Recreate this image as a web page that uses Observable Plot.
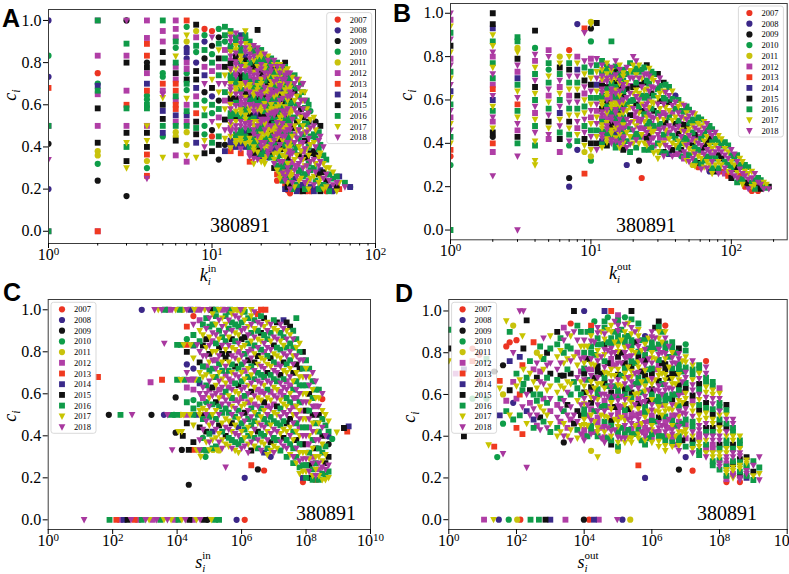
<!DOCTYPE html>
<html><head><meta charset="utf-8">
<script src="https://cdn.jsdelivr.net/npm/d3@7"></script>
<script src="https://cdn.jsdelivr.net/npm/@observablehq/plot@0.6"></script>
<style>
html,body{margin:0;padding:0;background:#fff;}
#wrap{position:relative;width:789px;height:574px;overflow:hidden;background:#fff;}
.panel{position:absolute;}
.panel svg{overflow:visible;}
#overlay{position:absolute;left:0;top:0;}
</style></head><body><div id="wrap"></div>
<script>
const YEARS = ["2007","2008","2009","2010","2011","2012","2013","2014","2015","2016","2017","2018"];
const COLORS = ["#ec3422","#3b2788","#141414","#0e9d48","#c8c20c","#b03ea6","#f03a20","#3a2a8a","#111111","#0f9a48","#c8c400","#a8389f"];
const SHAPES = ["circle","circle","circle","circle","circle","square","square","square","square","square","tri","tri"];
const Y_TICKS = [0, 0.2, 0.4, 0.6, 0.8, 1.0];
const K_MAJOR = [1, 10, 100];
const K_MINOR_A = [2,3,4,5,6,7,8,9,20,30,40,50,60,70,80,90];
const K_MINOR_B = [2,3,4,5,6,7,8,9,20,30,40,50,60,70,80,90,200];
const S_MAJOR = [1, 1e2, 1e4, 1e6, 1e8, 1e10];
const TOTAL = "380891";

// Panel A: columns [k_in, c values, year codes (0=2007 ... b=2018)]
const aCols = [
 [1, [1.0,.833,.733,.68,.5,.5,.415,.34,.2,0,0], "1316952b195"],
 [2, [1.0,1.0,.833,.75,.7,.69,.667,.65,.583,.5,.42,.38,.36,.32,.24,0,0], "95503795858443265"],
 [3, [1.0,1.0,.89,.833,.8,.667,.6,.583,.5,.467,.42,.4,.333,.3,.167], "2b95856958a98a2"],
 [4, [1.0,.917,.889,.833,.8,.778,.75,.7,.667,.643,.625,.6,.583,.5,.5,.467,.429,.4,.364,.333,.3,.263,.25], "55662857633995a8a86436b"],
 [5, [1.0,.95,.9,.85,.8,.75,.733,.7,.667,.65,.633,.6,.571,.533,.5,.467,.45,.35], "955883365ba878973a"],
 [6, [1.0,.96,.92,.9,.87,.83,.8,.78,.75,.72,.7,.667,.64,.62,.6,.58,.55,.52,.5,.47,.45,.43,.36], "55593a95856695667594485"],
 [7, [1.0,.97,.93,.9,.87,.85,.82,.8,.77,.75,.72,.7,.67,.63,.6,.57,.55,.52,.5,.47,.41,.36,.33], "63a4171553893a5975944a5"],
 [8, [.98,.95,.92,.88,.85,.8,.76,.72,.68,.64,.6,.56,.52,.49,.46,.42,.35], "8459318875968987a"],
 [9, [.96,.93,.9,.86,.82,.78,.74,.7,.66,.62,.58,.55,.5,.46,.43,.4,.37], "0319257b23a933ab8"],
 [10, [.95,.92,.88,.84,.8,.76,.72,.68,.64,.6,.56,.52,.48,.45,.42,.38], "0b2395a8193b2098"],
 [11, [.96,.92,.89,.86,.82,.78,.74,.7,.66,.62,.58,.54,.5,.45,.41,.34], "329a859ba295a982"],
 [12, [.97,.93,.9,.86,.82,.78,.74,.7,.66,.62,.58,.53,.48,.44,.41,.38], "993598ab95a8ba27"],
 [13, [.95,.92,.88,.85,.81,.77,.74,.7,.67,.63,.6,.56,.52,.49,.45,.41,.38], "9b9a5b9ab8a9b5a76"],
 [14, [.94,.9,.86,.83,.79,.75,.72,.68,.65,.61,.57,.54,.5,.46,.43,.4], "b9a8b59ab9a8b9a7"],
 [15, [.93,.89,.85,.81,.78,.74,.7,.67,.63,.59,.56,.52,.48,.44,.41,.37], "7b9ab8a9b5ab9a76"],
 [16, [.95,.91,.87,.83,.79,.76,.72,.69,.65,.62,.58,.55,.51,.47,.43,.4], "a9b7ab9a8b9ab797"],
 [17, [.9,.86,.82,.78,.75,.71,.68,.64,.6,.57,.53,.5,.46,.42,.38,.33], "9ab5b9a7ba9b8a56"],
 [18, [.88,.85,.81,.77,.74,.7,.66,.63,.59,.55,.52,.48,.44,.4,.37,.32], "b9a8b5a9b7ab9a2a"],
 [19, [.955,.87,.83,.8,.76,.72,.69,.65,.61,.58,.54,.5,.47,.43,.39,.36], "8ba9b5ab9a7b9a81"],
 [20, [.86,.83,.79,.75,.72,.68,.64,.61,.57,.53,.5,.46,.42,.38,.35], "9ab8a9b5ab9ab77"],
 [21, [.84,.8,.77,.73,.7,.66,.62,.59,.55,.51,.48,.44,.4,.36,.32], "b9ab5a9b8ab9a4a"],
 [22, [.83,.79,.75,.72,.68,.64,.61,.57,.53,.5,.46,.42,.38,.35], "a9b8ab9ab5a9b1"],
 [23, [.82,.78,.74,.71,.67,.63,.6,.56,.52,.48,.45,.41,.37], "9b7ab9ab8a9b2"],
 [24, [.81,.77,.73,.69,.66,.62,.58,.55,.51,.47,.43,.39,.34,.3], "b8a9b5ab9ab7a8"],
 [25, [.8,.76,.72,.68,.65,.61,.57,.53,.5,.46,.42,.37,.31,.27,.24], "9ab9a5b9ab8a960"],
 [26, [.79,.75,.71,.68,.64,.6,.56,.52,.49,.45,.41,.36,.3,.27], "ab9b8a9ab5b98a"],
 [27, [.78,.74,.7,.67,.63,.59,.55,.51,.47,.43,.39,.33,.29,.26], "b9a7b9ab9a8b59"],
 [28, [.8,.76,.72,.69,.65,.61,.57,.53,.49,.45,.41,.35,.3,.26,.22], "8ab9a5b9ab9a7b6"],
 [29, [.77,.73,.7,.66,.62,.58,.54,.5,.46,.42,.38,.32,.28,.25,.21], "a9b9ab8a9b5ab98"],
 [30, [.75,.72,.68,.64,.6,.56,.52,.48,.44,.4,.36,.3,.26,.22,.18], "b9ab7a9b5ab9a80"],
 [32, [.74,.7,.66,.62,.58,.54,.5,.46,.42,.38,.34,.29,.25,.21], "9b8ab9a5b9ab7a"],
 [34, [.72,.68,.64,.6,.56,.52,.48,.44,.4,.36,.32,.28,.24,.2], "ab9b5ab9a8b9a7"],
 [36, [.7,.66,.62,.58,.54,.5,.46,.42,.38,.34,.3,.26,.22,.19], "b9ab8a9b5ab978"],
 [38, [.62,.58,.55,.51,.47,.43,.39,.35,.31,.27,.23,.19], "9ab9b5a8b9a0"],
 [40, [.57,.53,.49,.45,.41,.37,.33,.29,.25,.21,.19], "3ab9a8b9a70"],
 [43, [.52,.48,.44,.4,.36,.32,.28,.24,.2], "2a9b8ab97"],
 [46, [.5,.45,.41,.37,.33,.29,.25,.21,.19], "8b9ab7a98"],
 [50, [.34,.3,.27,.24,.21,.19], "9ab8a0"],
 [55, [.28,.25,.22,.19], "a9b1"],
 [60, [.26,.23,.2], "7a6"],
 [65, [.23,.21], "9b"],
 [70, [.21,.21], "37"]
];
const aColsMore = [
 [13, [.935,.9,.865,.83,.795,.76,.72,.685,.65,.615,.58,.54,.505,.47,.43,.395], "ab9b8a9ba5b9ab7a"],
 [14, [.92,.88,.845,.81,.77,.735,.7,.665,.63,.595,.555,.52,.48,.445,.415], "9ab5ab9a8b9ab9a"],
 [15, [.91,.87,.83,.795,.76,.72,.685,.65,.61,.575,.54,.5,.46,.425,.39], "b9a9b8ab5a9b9ab"],
 [16, [.93,.89,.85,.81,.775,.74,.705,.67,.635,.6,.565,.53,.49,.45,.415], "9ab8a9b5ab9ab9a"],
 [17, [.88,.84,.8,.765,.73,.695,.66,.62,.585,.55,.515,.48,.44,.4,.355], "ab9b5ab9a8b9a9b"],
 [18, [.865,.83,.79,.755,.72,.68,.645,.61,.57,.535,.5,.46,.42,.385,.345], "9b8ab9a5b9ab9ab"],
 [19, [.85,.815,.78,.74,.705,.67,.63,.595,.56,.52,.485,.45,.41,.375,.34], "b9ab9a8b5a9b9ab"],
 [20, [.845,.81,.77,.735,.7,.66,.625,.59,.55,.515,.48,.44,.4,.365,.33], "a9b5ab9a8b9ab9a"],
 [21, [.82,.785,.75,.715,.68,.64,.605,.57,.53,.495,.46,.42,.38,.34], "9ab9b8a9b5ab9a"],
 [22, [.81,.77,.735,.7,.66,.625,.59,.55,.515,.48,.44,.4,.365], "b9a8ab9b5a9ab"],
 [23, [.8,.76,.725,.69,.65,.615,.58,.54,.5,.465,.43,.39,.35], "9b9ab5a9b8ab9"],
 [24, [.79,.75,.71,.675,.64,.6,.565,.53,.49,.45,.41,.365,.32], "a9b8a9b5ab9ab"],
 [25, [.78,.74,.7,.665,.63,.59,.55,.515,.48,.44,.395,.34,.29], "b9ab9a8b5ab9a"],
 [26, [.77,.73,.69,.66,.62,.58,.54,.5,.47,.43,.385,.33,.285,.25], "9ab5b9a9b8ab9a"],
 [27, [.76,.72,.685,.65,.61,.57,.53,.49,.45,.41,.36,.31,.275,.24], "ab9a8b9ab5a9b9"],
 [28, [.78,.74,.705,.67,.63,.59,.55,.51,.47,.43,.38,.325,.28,.24,.2], "9b8a9ab9b5a9ab7"],
 [29, [.75,.715,.68,.64,.6,.56,.52,.48,.44,.4,.35,.3,.265,.23,.195], "b9ab9a5b9a8b9a0"],
 [30, [.735,.7,.66,.62,.58,.54,.5,.46,.42,.38,.33,.28,.24,.2], "9ab8a9b9ab5a9b"],
 [31, [.73,.69,.65,.61,.57,.53,.49,.45,.41,.37,.32,.27,.23,.2], "a9b9ab8a9b5ab9"],
 [33, [.72,.68,.64,.6,.56,.52,.48,.44,.4,.36,.31,.26,.22,.19], "b9a9b8ab9a5b97"],
 [35, [.7,.66,.62,.58,.54,.5,.46,.42,.38,.34,.29,.25,.21,.19], "9ab8a9b5ab9a70"],
 [37, [.66,.62,.585,.55,.51,.47,.43,.39,.35,.31,.27,.23,.2], "ab9b9a8b5a9b9"],
 [39, [.6,.56,.52,.48,.44,.4,.36,.32,.28,.24,.2], "9b8ab9a9b5a"],
 [42, [.54,.5,.46,.42,.38,.34,.3,.26,.22,.19], "ab9a8b9ab7"],
 [45, [.47,.43,.39,.35,.31,.27,.23,.2], "9b9ab8a9"],
 [48, [.4,.36,.32,.28,.25,.22,.2], "b9a8b9a"],
 [52, [.3,.27,.24,.21,.19], "a9b79"],
 [58, [.26,.23,.21,.19], "9b8a"]
];

// Panel B: columns [k_out, c values, year codes]
const bCols = [
 [1, [1.0,.97,.94,.91,.88,.85,.82,.79,.76,.73,.7,.67,.64,.61,.58,.55,.52,.49,.46,.43,.4,.37,.34,.3,0], "b5a9b8a5b9ab7a9b5ab9a6039"],
 [2, [1.0,.95,.93,.9,.87,.85,.82,.8,.77,.75,.72,.7,.67,.65,.62,.6,.57,.55,.52,.5,.47,.45,.43,.4,.36,.25], "887a9ab59ab956b7a9b5a8265b"],
 [3, [.89,.87,.84,.82,.79,.76,.73,.7,.67,.64,.61,.58,.55,.52,.49,.46,.43,.4,.34,0], "994a8b579ab69ab589bb"],
 [4, [.92,.84,.81,.78,.75,.72,.69,.66,.63,.6,.57,.54,.51,.48,.45,.41,.39,.32,.3], "83b5a9b8a9b5a9ba9aa"],
 [5, [.83,.8,.77,.74,.71,.68,.65,.62,.59,.56,.53,.5,.47,.44,.42], "5b93a9b5a9b8ab5"],
 [6, [.8,.77,.75,.72,.69,.66,.63,.6,.57,.54,.51,.48,.45,.42,.36], "4a89b5a9b7ab985"],
 [7, [.83,.8,.77,.74,.71,.68,.65,.62,.59,.56,.53,.5,.47,.44,.41,.39,.24,.2], "0a98b9a5b9a8a9b321"],
 [8, [.95,.8,.77,.74,.71,.68,.65,.62,.59,.56,.53,.5,.47,.44,.41,.37], "15a7b9a8b9ab5a91"],
 [9, [.93,.91,.78,.75,.72,.69,.66,.63,.6,.57,.54,.51,.48,.45,.42,.39,.36,.26], "6bb9a8b5a9ab9b8a46"],
 [10, [.96,.95,.93,.87,.79,.76,.73,.7,.67,.64,.61,.58,.55,.52,.49,.46,.43,.4,.37,.34,.32], "4a235b9a8b9ab5a9b8a43"],
 [11, [.955,.79,.76,.73,.7,.67,.64,.61,.58,.55,.52,.49,.46,.43,.4,.37], "8b9ab7a9b5ab9a8b"],
 [12, [.78,.74,.71,.68,.65,.62,.59,.56,.53,.5,.47,.44,.41,.38], "9ab5b9a8b9ab7a"],
 [13, [.77,.74,.7,.66,.63,.6,.57,.54,.51,.48,.45,.42,.39], "a9b8ab9a5b9a8"],
 [14, [.87,.75,.72,.69,.65,.62,.58,.55,.52,.49,.46,.43,.4], "9b9ab5a9b8a9b"],
 [15, [.78,.73,.7,.66,.63,.6,.57,.54,.51,.47,.44,.41,.38], "b8a9b5ab9a7b9"],
 [16, [.76,.72,.69,.66,.62,.59,.56,.53,.49,.46,.42,.38], "a9b8ab9a5b9a"],
 [17, [.74,.71,.67,.64,.6,.57,.54,.5,.47,.44,.4,.37], "9ab9b8a9b5a8"],
 [18, [.75,.72,.68,.65,.61,.58,.55,.51,.48,.45,.41,.38,.3], "b9a8b9ab5a9b1"],
 [20, [.8,.76,.73,.7,.66,.63,.6,.56,.53,.5,.46,.43,.4], "ba9b8a9b5ab9a"],
 [22, [.76,.73,.7,.67,.63,.6,.57,.54,.5,.47,.43,.4,.32], "a9b8ab9a5b9a2"],
 [23, [.74,.7,.66,.62,.58,.55,.51,.47,.44,.24], "9ab9a8b5a0"],
 [25, [.76,.72,.69,.65,.62,.58,.55,.52,.48,.45,.42,.39], "8b9a9b5a9b8a"],
 [27, [.73,.7,.66,.63,.59,.56,.52,.49,.45,.42,.38], "9ab8a9b5ab9"],
 [30, [.72,.68,.65,.61,.58,.54,.51,.47,.44,.4,.36,.33], "8b9ab9a5b9aa"],
 [33, [.68,.64,.61,.58,.54,.51,.47,.44,.4,.36,.34], "8a9b5ab9a8b"],
 [36, [.66,.62,.59,.55,.52,.48,.45,.42,.38,.35], "9b8a9b5ab7"],
 [40, [.62,.59,.56,.52,.49,.46,.42,.39,.35], "1b9a8b9a5"],
 [44, [.58,.55,.52,.49,.46,.43,.4,.37,.34], "a9b5ab983"],
 [48, [.57,.54,.51,.48,.45,.42,.39,.35,.32], "9ab8a9b5a"],
 [53, [.54,.51,.48,.45,.42,.39,.36,.33,.3], "b9a9b8ab4"],
 [58, [.52,.49,.46,.43,.4,.37,.34,.31,.29], "9ab5b9a80"],
 [64, [.5,.47,.44,.41,.38,.35,.32,.29], "ab9a8b9a"],
 [70, [.48,.45,.42,.39,.36,.33,.3,.27], "9b8ab9a1"],
 [77, [.45,.42,.39,.36,.33,.3,.27], "b9ab9a8"],
 [85, [.42,.39,.36,.33,.3,.27], "a9b8a0"],
 [95, [.39,.36,.33,.3,.27,.25], "9ab9a6"],
 [105, [.35,.33,.3,.28,.25], "b9a8b"],
 [115, [.33,.3,.28,.25,.23], "a9b60"],
 [125, [.3,.27,.25,.22,.2], "9ab80"],
 [140, [.27,.24,.22,.2,.18], "ab9a0"],
 [155, [.24,.22,.2,.18], "9b80"],
 [170, [.22,.2,.19], "a9b"],
 [185, [.2,.19], "8b"]
];
const bColsMore = [
 [12, [.76,.725,.695,.665,.635,.605,.575,.545,.515,.485,.455,.425,.395], "b9a8b9ab5a9b9"],
 [13, [.755,.72,.685,.65,.615,.585,.555,.525,.495,.465,.435,.405], "9ab9a8b5ab9a"],
 [14, [.735,.705,.675,.635,.6,.565,.535,.505,.475,.445,.415], "ab9b5a9b8ab"],
 [15, [.755,.715,.68,.645,.615,.585,.555,.525,.49,.455,.425,.395], "9b8a9ab9b5a9"],
 [16, [.74,.705,.675,.64,.605,.575,.545,.51,.475,.44,.4], "b9ab9a8b5ab"],
 [17, [.725,.69,.655,.62,.585,.555,.52,.485,.455,.42,.385], "a9b8ab9a9b5"],
 [19, [.77,.735,.7,.665,.63,.595,.565,.53,.495,.465,.43,.395,.36], "9ab5b9a8b9ab9"],
 [21, [.78,.745,.715,.68,.645,.615,.58,.545,.515,.48,.445,.415,.38], "b9a9ab8b5a9b9"],
 [24, [.75,.715,.68,.645,.61,.57,.535,.5,.465,.43,.4,.37], "9b8a9b9ab5a9"],
 [26, [.745,.71,.675,.64,.6,.565,.53,.5,.465,.435,.4,.37], "ab9b5ab9a8b9"],
 [28, [.72,.69,.655,.62,.585,.55,.515,.48,.455,.425,.39,.355], "9ab9a8b9ab5a"],
 [31, [.7,.665,.63,.595,.56,.525,.49,.46,.425,.39,.36], "b9a8ab9b5a9"],
 [34, [.67,.635,.6,.565,.53,.495,.46,.425,.39,.355], "9b9ab8a5b9"],
 [38, [.64,.605,.575,.54,.505,.47,.435,.4,.37,.34], "a9b5ab9a8b"],
 [42, [.6,.57,.54,.505,.475,.445,.41,.38,.35], "9ab9b8a9b"],
 [46, [.575,.545,.515,.485,.455,.425,.395,.36,.33], "b9a8b9ab5"],
 [50, [.555,.525,.495,.465,.435,.405,.375,.345,.315], "9b9ab5a9b"],
 [55, [.535,.5,.47,.44,.41,.38,.35,.32,.295], "a9b8a9b9a"],
 [61, [.51,.48,.45,.42,.39,.36,.33,.305,.28], "9ab9b5a9b"],
 [67, [.49,.46,.43,.4,.37,.34,.315,.285], "b9a8b9ab"],
 [73, [.465,.435,.405,.375,.345,.315,.285,.26], "9b9a5b9a"],
 [81, [.435,.405,.375,.345,.315,.285,.26], "a9b8a9b"],
 [90, [.405,.375,.345,.315,.285,.26], "9ab9b5"],
 [100, [.37,.345,.315,.29,.265,.24], "b9a9b8"],
 [110, [.345,.315,.29,.265,.24,.22], "9b8ab9"],
 [120, [.315,.29,.26,.235,.21], "a9b9a"],
 [132, [.29,.26,.235,.21,.19], "9ab8b"],
 [147, [.26,.23,.21,.19], "b9a9"],
 [162, [.23,.21,.19], "9b8"],
 [178, [.21,.195], "a9"]
];

// Panel C: rows [c, s_in values, year codes] and columns [s_in, c values, year codes]
const cRows = [
 [1.0, [800,2000,2600,3300,4200,5500,7000,9000,1.2e4,1.5e4,2e4,2.6e4,3.4e4,4.4e4,5.6e4,7.2e4,9.3e4,1.2e5,1.6e5,2e5,2.6e5,3.4e5,4.4e5,5.7e5,7.3e5,9.4e5,1.2e6,2e6,4e6,5.5e6], "1bab95ba94b7a5bab89a5b9a4baa66"],
 [0.0, [13,80,130,170,220,290,370,480,620,800,1050,1350,1750,2300,3000,3900,5000,6500,8500,1.1e4,1.4e4,1.8e4,2.4e4,3.1e4,4e4,5.2e4,6.8e4,8.8e4,1.15e5,1.5e5,2e5,7e5,1.25e6], "b96578b659ba5b9aba59ab85ab82a9910"],
 [0.5, [76,175,400,1600,3900,5000,6300,8000,1e4,1.3e4,1.6e4,2e4,2.5e4,3.2e4,4e4,5e4,6.5e4,8e4,1e5], "29b21b9394a5a97a8b9"],
 [0.68, [35], "6"],
 [0.655, [1500], "5"],
 [0.667, [3400,1e4,1.3e4,1.7e4,2.2e4,2.8e4,3.6e4,4.6e4], "69a9b5a9"],
 [0.84, [4000], "b"],
 [0.833, [1e4,1.3e4,1.6e4,2e4,2.6e4,3.3e4,4.2e4], "99a6a9b"],
 [0.333, [7000,1.4e4,2.3e4,3.2e4,4e4,5e4,6.5e4,1e5,1.3e5,1.7e5], "b286ab9a4a"],
 [0.415, [9000], "2"],
 [0.4, [1.5e4], "8"],
 [0.42, [1.1e4,1.4e4], "aa"],
 [0.583, [9000], "2"],
 [0.167, [2.3e4], "2"],
 [0.3, [5.4e4,7.6e4], "a3"],
 [0.25, [3.2e5], "b"],
 [0.385, [6.5e8], "3"],
 [0.417, [9e8], "a"],
 [0.437, [1.5e9], "8"],
 [0.42, [1.9e9], "6"],
 [0.445, [2.1e9], "7"]
];
const cCols = [
 [2e4, [.92,.86,.8,.74,.7,.63,.56,.46], "6381b598"],
 [3.2e4, [.97,.93,.88,.83,.77,.72,.67,.62,.57,.53,.45,.37], "0b97a1b539a8"],
 [5e4, [.95,.9,.85,.8,.75,.7,.65,.6,.55,.52,.44,.38,.33], "5a9b8a7b9a8b4"],
 [6.3e4, [.93,.88,.83,.78,.73,.68,.63,.58,.53,.48,.43,.39], "9a8b9ab5a9b3"],
 [8e4, [.96,.91,.86,.82,.78,.73,.69,.64,.6,.56,.52,.47,.42,.37,.33], "9b8ab5a9b3ab8a9"],
 [1e5, [.96,.92,.87,.83,.79,.75,.71,.66,.62,.58,.54,.49,.45,.41,.37], "b9ab8a9b5ab9a9b"],
 [1.25e5, [.98,.93,.89,.85,.8,.76,.72,.68,.63,.59,.55,.5,.46,.42,.38,.34], "a9b5ab9a8b9ab7a9"],
 [1.6e5, [.97,.93,.88,.84,.8,.76,.72,.68,.64,.6,.56,.52,.48,.43,.39,.35], "9ab9a5b9ab8a9ba9"],
 [2e5, [.95,.9,.86,.82,.78,.74,.7,.66,.62,.58,.54,.5,.45,.41,.37,.33], "b9a8b9ab5a9b8ab4"],
 [2.5e5, [.96,.92,.87,.83,.79,.75,.71,.67,.63,.59,.55,.51,.46,.42,.38,.34], "ab9b8a9ab5b9a9ab"],
 [3.2e5, [.97,.93,.89,.85,.81,.77,.73,.69,.65,.61,.57,.53,.48,.44,.4,.36], "9ab9a8b5a9b9ab8a"],
 [4e5, [.99,.95,.91,.87,.83,.79,.75,.71,.67,.63,.59,.55,.51,.47,.43,.39,.35], "9b9ab8a9b5ab9ab9a"],
 [5e5, [.98,.94,.9,.86,.82,.78,.74,.7,.66,.62,.58,.54,.5,.46,.42,.38,.34], "a9b8ab9a5b9ab8a9b"],
 [6.3e5, [.97,.93,.89,.85,.81,.77,.73,.69,.65,.61,.57,.53,.49,.45,.41,.37,.33], "b9a9ab8b9a5b9ab9a"],
 [8e5, [.96,.92,.88,.84,.8,.76,.72,.68,.64,.6,.56,.52,.48,.44,.4,.36,.32], "b9ab5a9b8ab9a7b9a"],
 [1e6, [.98,.94,.9,.86,.82,.78,.74,.7,.66,.62,.58,.54,.5,.46,.42,.38,.34], "a9b8ab9a9b5ab9a9b"],
 [1.25e6, [.99,.95,.91,.87,.83,.79,.75,.71,.67,.63,.59,.55,.51,.47,.43,.39,.35,.2], "9ab8a9b5ab9a8b9ab1"],
 [1.6e6, [.96,.92,.88,.84,.8,.76,.72,.68,.64,.6,.56,.52,.48,.44,.4,.36,.32], "9ab9b8a9ab5b9a9ab"],
 [2e6, [.97,.93,.89,.85,.81,.77,.73,.69,.65,.61,.57,.53,.49,.45,.41,.37,.33,.26], "ab9a5b9ab8a9b9ab86"],
 [2.5e6, [.99,.95,.91,.87,.83,.79,.75,.71,.67,.63,.59,.55,.51,.47,.43,.39,.35], "b9ab9a8b9ab5a9b9a"],
 [3.2e6, [.98,.94,.9,.86,.82,.78,.74,.7,.66,.62,.58,.54,.5,.46,.42,.38,.34,.24], "6b9ab8a9b5ab9a8b92"],
 [4e6, [.97,.93,.89,.85,.81,.77,.73,.69,.65,.61,.57,.53,.49,.45,.41,.37,.33], "9b8a9ab9b5a9ab9ab"],
 [5e6, [.96,.92,.88,.84,.8,.76,.72,.68,.64,.6,.56,.52,.48,.44,.4,.36,.32,.235], "8a9b5ab9ab8a9b9a70"],
 [6.3e6, [.94,.9,.86,.82,.78,.74,.7,.66,.62,.58,.54,.5,.46,.42,.38,.34,.31], "ab9b9a8b9a5b9ab9a"],
 [8e6, [.93,.89,.85,.81,.77,.73,.69,.65,.61,.57,.53,.49,.45,.41,.37,.33,.3], "b9ab8a9b5ab9ab8a1"],
 [1e7, [.95,.91,.87,.83,.79,.75,.71,.67,.63,.59,.55,.51,.47,.43,.39,.35,.32], "9ab8a9b9ab5a9b9ab"],
 [1.25e7, [.94,.9,.86,.82,.78,.74,.7,.66,.62,.58,.54,.5,.46,.42,.38,.34], "8ab9a5b9ab8a9b9a"],
 [1.6e7, [.93,.89,.85,.81,.77,.73,.69,.65,.61,.57,.53,.49,.45,.41,.37,.33], "b9a9ab8b5a9b9ab9"],
 [2e7, [.95,.91,.87,.83,.79,.75,.71,.67,.63,.59,.55,.51,.47,.43,.39,.35], "7b9ab8a9b5ab9a8b"],
 [2.5e7, [.94,.9,.86,.82,.78,.74,.7,.66,.62,.58,.54,.5,.46,.42,.38,.34,.3], "8ab9b9a5b9ab8a9b9"],
 [3.2e7, [.92,.88,.84,.8,.76,.72,.68,.64,.6,.56,.52,.48,.44,.4,.36,.31], "8a9b9ab5a9b8ab9a"],
 [4e7, [.9,.86,.82,.78,.74,.7,.66,.62,.58,.54,.5,.46,.42,.38,.34,.3,.27], "9b9ab8a9b5ab9a9b9"],
 [5e7, [.96,.86,.82,.78,.74,.7,.66,.62,.58,.54,.5,.46,.42,.38,.34,.3,.27], "99ab8a9b5ab9a8b9a"],
 [6.3e7, [.84,.8,.76,.72,.68,.64,.6,.56,.52,.48,.44,.4,.36,.32,.28,.25,.22], "a9b8a9b9ab5a9ab9a"],
 [8e7, [.8,.76,.72,.68,.64,.6,.56,.52,.48,.44,.4,.36,.32,.29,.26,.23,.2,.18], "8b9a9ab5a9b8ab9a70"],
 [1e8, [.76,.72,.68,.64,.6,.56,.52,.48,.44,.4,.36,.32,.29,.26,.23,.2], "9ab9ab8a9b5ab9a9"],
 [1.25e8, [.72,.68,.64,.6,.56,.52,.48,.44,.4,.36,.32,.29,.26,.23,.2], "9ab8a9b5ab9a8b2"],
 [1.6e8, [.7,.66,.62,.58,.54,.5,.46,.42,.38,.34,.3,.27,.24,.21,.19], "b9a9b8ab9a5b9a9"],
 [2e8, [.66,.62,.58,.54,.5,.46,.42,.38,.34,.3,.27,.24,.21,.19], "b9a5b9ab8a9ab6"],
 [2.5e8, [.62,.58,.54,.5,.46,.42,.38,.34,.3,.27,.24,.21,.19], "9ab8a9b9ab5a9"],
 [3.2e8, [.6,.575,.52,.48,.44,.4,.36,.32,.28,.25,.22,.19], "b0a9b8a9ab9a"],
 [4e8, [.5,.45,.4,.35,.31,.27,.24,.21,.19], "a9b9a8b9a"],
 [5e8, [.47,.42,.397,.36,.3,.26,.23,.2], "a9128b9a"]
];

// Panel D: rows [c, s_out values, year codes] and columns [s_out, c values, year codes]
const dRows = [
 [0.0, [11,21,30,59,105,130,260,460,720,1000,2800,9800,1.4e4,1.95e4,2.7e4,9.5e4,1.35e5,2.3e5], "5a1340998752075b14"]
];
const dCols = [
 [1, [.91,.82,.76], "98a"],
 [1.6, [.7], "5"],
 [2.8, [.72,.4], "78"],
 [5, [.82,.76,.58], "063"],
 [8, [.79,.665], "00"],
 [13, [.77,.58], "93"],
 [15, [.358], "a"],
 [22, [.71,.35], "26"],
 [27, [.3], "3"],
 [32, [.665,.63,.5], "6a7"],
 [40, [.74,.6,.46,.316], "243b"],
 [50, [.952,.83,.57,.52], "a059"],
 [63, [.9,.85,.76,.62,.5], "9078a"],
 [80, [.93,.8,.66,.56,.48], "4b519"],
 [100, [.86,.7,.64,.58,.44], "09a56"],
 [125, [1.0,.78,.67,.6,.5], "b7a69"],
 [150, [.88,.74,.62,.54,.41], "a69b6"],
 [160, [1.0,.82,.72,.65], "b8a9"],
 [200, [.955,.68,.6,.52,.46,.25], "89b7ab"],
 [250, [.76,.7,.62,.56,.5], "9a85b"],
 [320, [.85,.72,.66,.6,.53,.48,.44], "65a9b79"],
 [400, [.8,.75,.68,.63,.57,.5,.45], "4b8a9b5"],
 [500, [.83,.78,.71,.66,.6,.54,.49,.43], "9a5b9a8b"],
 [630, [.87,.77,.72,.65,.58,.52,.47], "b9ab5a9"],
 [800, [.8,.74,.68,.62,.56,.5,.44], "8b9a9ab"],
 [1000, [.88,.82,.75,.7,.64,.58,.52,.46,.42], "a9b8ab5a9"],
 [1600, [.9,.84,.78,.72,.67,.61,.55,.49,.44,.4], "89ab9a5b9a"],
 [2500, [.92,.86,.8,.75,.69,.63,.57,.52,.46,.4,.37], "5b9a8ab9ab2"],
 [4000, [.94,.88,.82,.76,.7,.65,.6,.54,.48,.43,.38], "0a9b8a9b5ab"],
 [5000, [1.0,.9,.78,.66,.5,.46], "8ba9b8"],
 [6300, [.93,.86,.8,.74,.68,.63,.57,.52,.47,.43,.39], "9b5ab9a8b9a"],
 [1e4, [1.0,.86,.8,.75,.7,.64,.58,.53,.48,.43,.38], "1b9a8ab9a5b"],
 [1.25e4, [.9,.83,.77,.72,.67,.61,.55,.5,.45,.4], "9a8b9ab5a9"],
 [1.6e4, [.93,.88,.83,.77,.72,.66,.61,.56,.5,.45,.41,.33], "6a9b5ab8a9b4"],
 [2e4, [.95,.85,.79,.74,.68,.63,.58,.52,.47,.42], "3b9a8ab9a5"],
 [2.5e4, [.92,.87,.81,.76,.71,.65,.6,.55,.49,.44,.4,.3], "b9ab8a9b5a9a"],
 [3.2e4, [.9,.84,.78,.7,.65,.6,.54,.5,.44,.39], "a9b8ab9a5b"],
 [4e4, [1.0,.95,.89,.84,.79,.73,.68,.63,.57,.52,.47,.42,.37], "79b8ab9a5b9ab"],
 [5e4, [.97,.91,.85,.81,.75,.7,.64,.59,.54,.49,.44,.39], "3a9b8a9b5ab9"],
 [6.3e4, [1.0,.93,.87,.82,.77,.72,.66,.61,.56,.5,.45,.4,.36], "6a9b5ab8ab9a8"],
 [8e4, [.95,.9,.85,.8,.74,.69,.64,.59,.54,.48,.43], "b9ab5a9b8ab"],
 [1e5, [.98,.93,.88,.83,.78,.72,.67,.62,.57,.52,.47,.42,.37,.33], "5b9a8ab9b5a9a4"],
 [1.25e5, [.91,.86,.8,.75,.69,.64,.59,.54,.49,.44,.39], "9a8b9ab5a9b"],
 [1.6e5, [.97,.9,.85,.8,.75,.7,.65,.6,.55,.5,.45,.41,.37], "3a9b8ab9a5b9a"],
 [2e5, [.94,.88,.83,.78,.73,.68,.63,.58,.53,.48,.43,.39], "a9b5ab9a8b9a"],
 [2.5e5, [1.0,.92,.86,.81,.76,.71,.66,.61,.56,.51,.46,.41,.37], "8b9a9ab8a5b9a"],
 [3.2e5, [.9,.85,.8,.75,.7,.65,.6,.55,.5,.45,.41], "b8a9b9ab5a9"],
 [4e5, [.94,.88,.83,.78,.73,.68,.63,.58,.53,.48,.43,.39,.26], "9ab8a9b5ab9a6"],
 [5e5, [.86,.81,.76,.71,.66,.61,.56,.51,.46,.42,.38], "9ab8a9b5ab9"],
 [6.3e5, [.88,.84,.79,.74,.69,.64,.59,.54,.49,.44,.4,.36,.2], "1a9b8ab9a5b91"],
 [8e5, [.87,.82,.77,.72,.67,.62,.57,.52,.47,.43,.39], "a9b9ab8a5b9"],
 [1e6, [.9,.85,.8,.75,.7,.65,.6,.55,.5,.45,.41,.37], "b9ab8a9b5a9a"],
 [1.25e6, [.92,.87,.82,.77,.72,.67,.62,.57,.52,.47,.42], "8b9a5ab9a9b"],
 [1.6e6, [.95,.9,.84,.79,.74,.69,.64,.59,.54,.49,.44,.4,.35], "8a9b5ab9a8b9a"],
 [2e6, [.9,.85,.8,.75,.7,.65,.6,.55,.5,.45,.4], "9ab8a9b5ab9"],
 [2.5e6, [.93,.87,.82,.77,.72,.67,.62,.57,.52,.47,.42,.38,.33], "0b9a8ab9a5b9a"],
 [3.2e6, [.83,.78,.73,.68,.63,.58,.53,.48,.44,.4], "b9a8b9ab5a"],
 [4e6, [.85,.8,.75,.7,.65,.6,.55,.5,.45,.41,.37], "9ab8a9b5ab9"],
 [5e6, [.8,.75,.7,.65,.6,.55,.5,.45,.4,.36], "9b8a9ab9a5"],
 [6.3e6, [.82,.77,.72,.67,.62,.57,.52,.47,.42,.38,.33,.24], "8b9a9ab5a9b2"],
 [8e6, [.76,.71,.66,.61,.56,.51,.46,.42,.38], "a9b5ab9a8"],
 [1e7, [.84,.78,.73,.68,.63,.58,.53,.48,.43,.39,.3], "3a9b8ab9a51"],
 [1.6e7, [.76,.72,.67,.62,.57,.52,.47,.42,.38,.34,.235], "b9ab5a9b8a0"],
 [2.5e7, [.74,.7,.65,.6,.55,.5,.45,.41,.37,.33], "9a8b9ab5a9"],
 [4e7, [.76,.7,.66,.61,.56,.51,.46,.42,.38,.34,.3], "0b9a8ab9a5b"],
 [6.3e7, [.66,.62,.58,.53,.48,.44,.4,.36,.32,.28], "9ab9a8b5a9"],
 [1e8, [.63,.58,.54,.5,.46,.42,.38,.34,.3,.27,.24], "5b9a8ab9ab9"],
 [1.6e8, [.55,.5,.46,.42,.38,.34,.3,.27,.24,.21,.18], "8a9b9ab5a90"],
 [2.5e8, [.48,.44,.4,.36,.32,.28,.25,.22,.2], "b9a8b9a5a"],
 [4e8, [.4,.36,.32,.29,.26,.23,.2,.18], "a9b8a9b0"],
 [6.3e8, [.3,.27,.25,.22,.2], "8a9b7"],
 [1e9, [.28,.26,.23,.21,.19], "9b8a9"],
 [1.5e9, [.3,.25,.22,.19], "b9ab"]
];
const dColsMore = [
 [2000, [.87,.81,.75,.69,.64,.58,.53,.47,.42], "9ab8a9b5a"],
 [3200, [.89,.83,.77,.72,.66,.61,.55,.5,.44,.4], "b9a9ab8b5a"],
 [8000, [.9,.83,.77,.71,.66,.6,.55,.5,.45,.41], "9ab5a9b8ab"],
 [1e4, [.83,.775,.725,.67,.61,.555,.505,.455,.405], "ab9b8a9a5"],
 [1.6e4, [.905,.855,.8,.745,.69,.635,.585,.53,.475,.43], "9b9ab8a5b9"],
 [2.5e4, [.895,.84,.785,.735,.68,.625,.575,.52,.465,.42], "b9a8b9ab5a"],
 [4e4, [.92,.865,.815,.76,.705,.655,.6,.545,.495,.445,.395], "9ab9a8b9ab5"],
 [6.3e4, [.9,.845,.795,.745,.69,.635,.585,.53,.475,.425,.38], "a9b5ab9a8b9"],
 [1e5, [.955,.905,.855,.805,.75,.695,.645,.595,.545,.495,.445,.395,.35], "9b9ab8a9b5ab9"],
 [1.6e5, [.935,.875,.825,.775,.725,.675,.625,.575,.525,.475,.43,.39], "b9ab9a8b9a5b"],
 [2.5e5, [.96,.89,.835,.785,.735,.685,.635,.585,.535,.485,.435,.39], "9a9b8ab9ab5a"],
 [4e5, [.91,.855,.805,.755,.705,.655,.605,.555,.505,.455,.41], "ab9ab9a8b5a"],
 [6.3e5, [.86,.815,.765,.715,.665,.615,.565,.515,.465,.42,.38], "9b8a9ab9b5a"],
 [1e6, [.875,.825,.775,.725,.675,.625,.575,.525,.475,.43,.39], "b9a9b8ab9a5"],
 [1.6e6, [.925,.87,.815,.765,.715,.665,.615,.565,.515,.465,.42,.375], "9ab9a8b9ab5a"],
 [2.5e6, [.9,.845,.795,.745,.695,.645,.595,.545,.495,.445,.4,.355], "a9b8ab9a9b5a"],
 [4e6, [.825,.775,.725,.675,.625,.575,.525,.475,.43,.39,.35], "9b9ab8a9b5a"],
 [6.3e6, [.795,.745,.695,.645,.595,.545,.495,.445,.4,.355], "b9a8b9ab9a"],
 [1e7, [.81,.755,.705,.655,.605,.555,.505,.455,.41,.35], "9ab9a8b5a9"],
 [1.6e7, [.74,.695,.645,.595,.545,.495,.445,.4,.36,.32], "a9b8ab9a9b"],
 [2.5e7, [.72,.675,.625,.575,.525,.475,.43,.39,.35,.31], "9b9a8ab5a9"],
 [4e7, [.73,.68,.635,.585,.535,.485,.44,.4,.36,.32], "b9ab9a8b9a"],
 [6.3e7, [.64,.6,.555,.505,.46,.42,.38,.34,.3,.26], "9ab8a9b5a9"],
 [1e8, [.605,.56,.52,.48,.44,.4,.36,.32,.285,.255], "a9b9ab8a9b"],
 [1.6e8, [.525,.48,.44,.4,.36,.32,.285,.255,.225,.195], "9b8a9ab9a5"],
 [2.5e8, [.46,.42,.38,.34,.3,.265,.235,.21], "b9a9b8ab"],
 [4e8, [.38,.34,.305,.275,.245,.215,.19], "9ab9a8b"],
 [6.3e8, [.285,.26,.235,.21], "a9b9"]
];

const SERIF = "'Liberation Serif', 'DejaVu Serif', 'Times New Roman', Times, serif";
const SANS = "'Liberation Sans', Arial, 'DejaVu Sans', sans-serif";
const code = (c, i) => parseInt(c[i] ?? c[c.length - 1], 12);
function fromCols(cols) {
  return cols.flatMap(([x, ys, c]) => ys.map((y, i) => ({x, y, yi: code(c, i)})));
}
function fromRows(rows) {
  return rows.flatMap(([y, xs, c]) => xs.map((x, i) => ({x, y, yi: code(c, i)})));
}
const triDown = {
  draw(ctx, size) {
    const h = Math.sqrt(size / Math.PI);
    ctx.moveTo(-h * 1.05, -h * 0.85);
    ctx.lineTo(h * 1.05, -h * 0.85);
    ctx.lineTo(0, h * 1.15);
    ctx.closePath();
  }
};
const SYM = {circle: [d3.symbolCircle, 3.1], square: [d3.symbolSquare, 3.3], tri: [triDown, 3.2]};

const wrap = document.getElementById("wrap");
function panel(cfg) {
  const data = cfg.data.map(d => ({...d, year: YEARS[d.yi]})).sort((a, b) => a.yi - b.yi);
  const dots = shape => Plot.dot(data.filter(d => SHAPES[d.yi] === shape), {
    x: "x", y: "y", fill: "year", r: SYM[shape][1],
    symbol: shape === "tri" ? triDown : shape, clip: true
  });
  const marks = [
    dots("circle"), dots("square"), dots("tri"),
    Plot.frame({stroke: "#3c3c3c", strokeWidth: 1}),
    Plot.axisY({ticks: Y_TICKS, tickSize: 5, tickPadding: 2, tickFormat: d3.format(".1f"), label: null}),
    Plot.axisX({ticks: cfg.major, tickSize: 5, tickPadding: 0, tickFormat: d => "10^" + Math.round(Math.log10(d)), label: null})
  ];
  if (cfg.minor) marks.push(Plot.axisX({ticks: cfg.minor, tickSize: 2.5, tickFormat: () => "", label: null}));
  const svg = Plot.plot({
    width: cfg.W, height: cfg.H,
    marginLeft: cfg.m[0], marginRight: cfg.m[1], marginTop: cfg.m[2], marginBottom: cfg.m[3],
    style: {fontFamily: SERIF, fontSize: "16px", color: "#000", background: "none", overflow: "visible"},
    x: {type: "log", domain: cfg.xDomain},
    y: {domain: cfg.yDomain},
    color: {type: "ordinal", domain: YEARS, range: COLORS},
    marks
  });
  const s = d3.select(svg);
  s.selectAll('g[aria-label="x-axis tick label"] text').each(function () {
    const m = /^10\^(\d+)$/.exec(this.textContent);
    if (!m) { if (this.textContent === "") this.remove(); return; }
    this.textContent = "10";
    d3.select(this).append("tspan").attr("dy", "-0.45em").attr("font-size", 11).text(m[1]);
  });
  const div = document.createElement("div");
  div.className = "panel";
  div.style.left = cfg.pos[0] + "px"; div.style.top = cfg.pos[1] + "px";
  div.style.width = cfg.W + "px"; div.style.height = cfg.H + "px";
  div.appendChild(svg);
  wrap.appendChild(div);
}

// overlay: panel letters, axis titles, counts, legends (page pixels)
function decorate(o, cfg) {
  o.append("text").attr("x", cfg.letter[1]).attr("y", cfg.letter[2])
    .attr("font-family", SANS).attr("font-weight", "bold").attr("font-size", 25).text(cfg.letter[0]);
  const yl = o.append("text").attr("transform", `translate(${cfg.yl[0]},${cfg.yl[1]}) rotate(-90)`)
    .attr("text-anchor", "middle").attr("font-family", SERIF).attr("font-size", 18);
  yl.append("tspan").attr("font-style", "italic").text("c");
  yl.append("tspan").attr("font-style", "italic").attr("font-size", 12).attr("dy", 4).text("i");
  const xl = o.append("text").attr("x", cfg.xl[0]).attr("y", cfg.xl[1])
    .attr("text-anchor", "middle").attr("font-family", SERIF).attr("font-size", 18);
  xl.append("tspan").attr("font-style", "italic").text(cfg.xl[2]);
  xl.append("tspan").attr("font-style", "italic").attr("font-size", 11).attr("dy", 4).text("i");
  xl.append("tspan").attr("font-size", 11).attr("dx", -3.1).attr("dy", -12.7).text(cfg.xl[3]);
  o.append("text").attr("x", cfg.total[0]).attr("y", cfg.total[1]).attr("text-anchor", "middle")
    .attr("font-family", SERIF).attr("font-size", 20).text(TOTAL);
  const [lx, ly] = cfg.legend;
  const g = o.append("g");
  g.append("rect").attr("x", lx).attr("y", ly).attr("width", 45).attr("height", 131).attr("rx", 2.5)
    .attr("fill", "#fff").attr("fill-opacity", 0.8).attr("stroke", "#cfcfcf").attr("stroke-width", 0.8);
  YEARS.forEach((yr, i) => {
    const cy = ly + 7 + i * 10.7, cx = lx + 11;
    const [type, r] = SYM[SHAPES[i]];
    g.append("path").attr("transform", `translate(${cx},${cy})`)
      .attr("d", d3.symbol(type, Math.PI * r * r)()).attr("fill", COLORS[i]);
    g.append("text").attr("x", lx + 23).attr("y", cy + 3).attr("font-family", SERIF)
      .attr("font-size", 8.5).text(yr);
  });
}

const PANELS = [
  {pos: [0, 0], W: 390, H: 280, m: [48, 15, 9, 37],
   data: fromCols(aCols).concat(fromCols(aColsMore)), xDomain: [1, 100], yDomain: [-0.058, 1.052],
   major: K_MAJOR, minor: K_MINOR_A,
   letter: ["A", 2, 27], yl: [16, 95], xl: [208, 281, "k", "in"], total: [240, 232], legend: [326.7, 12.6]},
  {pos: [390, 0], W: 399, H: 280, m: [60, 2.3, 3, 40.7],
   data: fromCols(bCols).concat(fromCols(bColsMore)), xDomain: [1, 250], yDomain: [-0.045, 1.045],
   major: K_MAJOR, minor: K_MINOR_B,
   letter: ["B", 393, 22], yl: [412, 95], xl: [620, 279, "k", "out"], total: [646, 232], legend: [738.4, 6]},
  {pos: [0, 280], W: 390, H: 294, m: [47.7, 20, 19, 45],
   data: fromRows(cRows).concat(fromCols(cCols)), xDomain: [1, 1e10], yDomain: [-0.046, 1.049],
   major: S_MAJOR, minor: null,
   letter: ["C", 3, 301], yl: [16, 416], xl: [203, 567.5, "s", "in"], total: [326, 520], legend: [51, 302.3]},
  {pos: [390, 280], W: 399, H: 294, m: [58.3, 2.3, 19, 45],
   data: fromRows(dRows).concat(fromCols(dCols), fromCols(dColsMore)), xDomain: [1, 1e10], yDomain: [-0.047, 1.055],
   major: S_MAJOR, minor: null,
   letter: ["D", 395, 302], yl: [415, 417], xl: [588, 567.5, "s", "out"], total: [727, 520], legend: [451.6, 302.3]}
];
PANELS.forEach(panel);
const overlay = d3.select(wrap).append("svg").attr("id", "overlay").attr("width", 789).attr("height", 574);
PANELS.forEach(cfg => decorate(overlay, cfg));
</script></body></html>
